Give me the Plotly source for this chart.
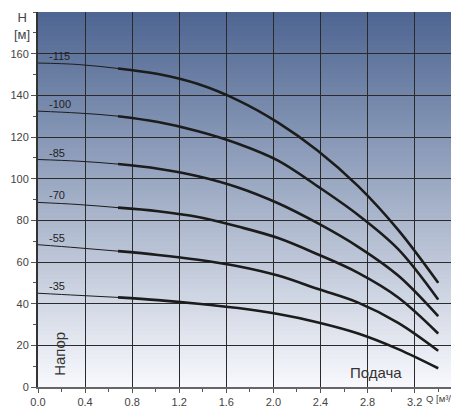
import plotly.graph_objects as go

# Data
q = [0.0, 0.34, 0.68, 1.02, 1.36, 1.70, 2.04, 2.38, 2.72, 3.06, 3.40]
curve_names = ["-115", "-100", "-85", "-70", "-55", "-35"]
h_115 = [155.5, 154.8, 152.9, 150.2, 145.4, 137.6, 126.9, 113.3, 96.4, 75.4, 50.0]
h_100 = [132.4, 131.5, 130.0, 127.2, 122.8, 116.8, 108.7, 96.2, 82.6, 66.2, 42.0]
h_85 = [109.2, 108.4, 107.0, 104.8, 101.2, 95.8, 88.2, 78.5, 67.3, 53.5, 34.0]
h_70 = [88.6, 87.6, 86.1, 84.4, 81.6, 77.0, 71.5, 63.6, 54.8, 43.0, 25.7]
h_55 = [68.3, 66.8, 65.2, 63.4, 61.1, 58.0, 53.5, 47.0, 40.5, 30.8, 17.4]
h_35 = [45.0, 44.0, 43.0, 41.7, 40.0, 37.9, 35.0, 31.0, 25.7, 18.2, 9.0]
curves = [h_115, h_100, h_85, h_70, h_55, h_35]
x_ticks = [0.0, 0.4, 0.8, 1.2, 1.6, 2.0, 2.4, 2.8, 3.2]
x_tick_labels = ["0.0", "0.4", "0.8", "1.2", "1.6", "2.0", "2.4", "2.8", "3.2"]
y_ticks = [0, 20, 40, 60, 80, 100, 120, 140, 160]
thick_start = 2  # index of q where the working range (thick line) begins

fig = go.Figure()
for name, h in zip(curve_names, curves):
    fig.add_trace(go.Scatter(x=q, y=h, mode="lines", line=dict(color="#1c1c1c", width=1, shape="spline", smoothing=1.0),
                             showlegend=False, hoverinfo="skip"))
    fig.add_trace(go.Scatter(x=q[thick_start:], y=h[thick_start:], mode="lines",
                             line=dict(color="#1c1c1c", width=2.6, shape="spline", smoothing=1.0),
                             showlegend=False, hoverinfo="skip"))
    fig.add_annotation(x=0.0, y=h[0], text=name, showarrow=False, xanchor="left", yanchor="bottom",
                       xshift=9, yshift=-1, font=dict(size=11, color="#222", family="Liberation Sans, Arial"))

# gradient background
top = (78, 102, 146)
bot = (247, 248, 252)
n = 80
shapes = []
for i in range(n):
    t = i / (n - 1)
    c = tuple(int(round(top[k] + (bot[k] - top[k]) * t)) for k in range(3))
    y1 = 1 - i / n
    y0 = 1 - (i + 1) / n
    shapes.append(dict(type="rect", xref="paper", yref="paper", x0=0, x1=1, y0=y0 - 0.002, y1=y1,
                       fillcolor="rgb(%d,%d,%d)" % c, line=dict(width=0), layer="below"))

# the page body adds an 8px offset, so the figure is 8px smaller than the window
fig.update_layout(
    width=451, height=402,
    margin=dict(l=27, r=2, t=4, b=18),
    paper_bgcolor="white", plot_bgcolor="rgba(0,0,0,0)",
    shapes=shapes,
    font=dict(family="Liberation Sans, Arial", size=11, color="#444"),
)
fig.update_xaxes(range=[0, 3.56], tickvals=x_ticks, ticktext=x_tick_labels, showgrid=True,
                 gridcolor="#2a2a2a", gridwidth=1.4, ticks="outside", ticklen=4, tickcolor="#555",
                 showline=True, linecolor="#666", linewidth=1.5, zeroline=False,
                 minor=dict(dtick=0.2, ticks="outside", ticklen=3, tickcolor="#555", showgrid=False))
fig.update_yaxes(range=[0, 180], tickvals=y_ticks, showgrid=True,
                 gridcolor="#2a2a2a", gridwidth=1.4, ticks="outside", ticklen=5, tickcolor="#555",
                 showline=True, linecolor="#333", linewidth=2, zeroline=False,
                 minor=dict(dtick=10, ticks="outside", ticklen=3, tickcolor="#555", showgrid=False))

fig.add_annotation(xref="paper", yref="paper", x=0, y=1, xshift=-6, yshift=4, text="H<br>[м]", showarrow=False,
                   xanchor="right", yanchor="top", align="center",
                   font=dict(size=13, color="#444"))
fig.add_annotation(xref="paper", yref="paper", x=1, y=0, xshift=0, yshift=-5, text="Q [м³/ч",
                   showarrow=False, xanchor="right", yanchor="top", borderpad=0,
                   font=dict(size=9.5, color="#444"))
fig.add_annotation(xref="x", yref="y", x=0.18, y=16, text="Напор", textangle=-90, showarrow=False,
                   font=dict(size=15, color="#333"))
fig.add_annotation(xref="x", yref="y", x=2.87, y=7, text="Подача", showarrow=False,
                   font=dict(size=15, color="#333"))

fig.write_html("out.html")
